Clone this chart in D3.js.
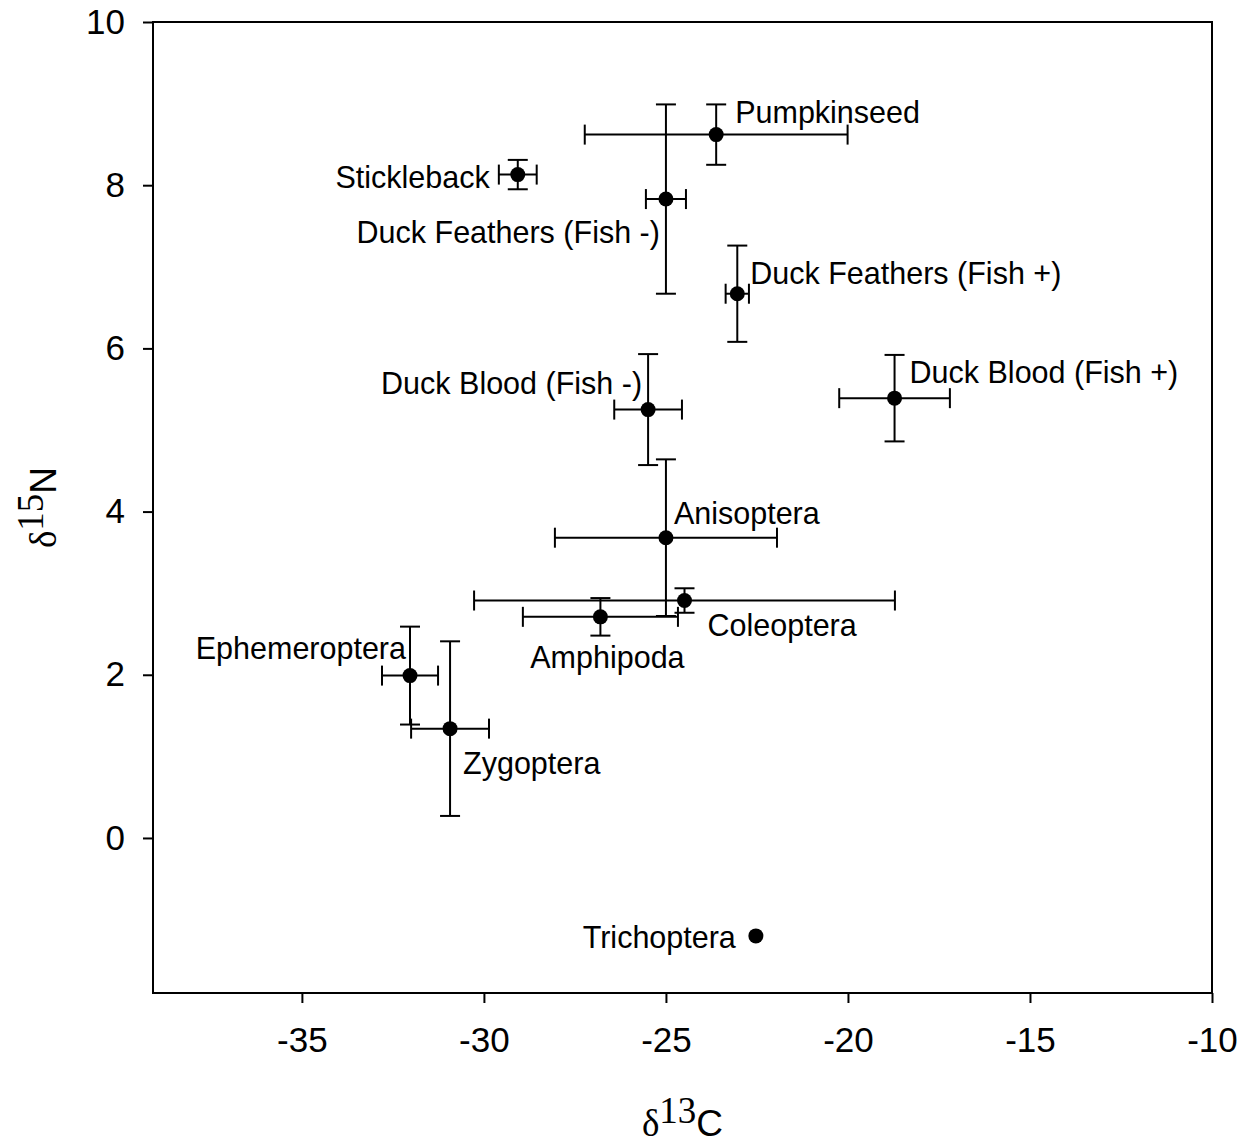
<!DOCTYPE html>
<html>
<head>
<meta charset="utf-8">
<script src="https://cdn.jsdelivr.net/npm/d3@7"></script>
<style>
  body { margin: 0; background: #fff; }
  svg { display: block; }
  .tick text { font-family: "Liberation Sans", Arial, sans-serif; }
</style>
</head>
<body>
<svg id="chart" width="1250" height="1143"></svg>
<script>
// taxa and mean stable isotope values (+/- error)
let taxa = ['Pumpkinseed', 'Stickleback', 'Duck Feathers (Fish -)', 'Duck Feathers (Fish +)',
    'Duck Blood (Fish -)', 'Duck Blood (Fish +)', 'Anisoptera', 'Coleoptera',
    'Amphipoda', 'Ephemeroptera', 'Zygoptera', 'Trichoptera'];
let d13C = [-23.62, -29.07, -25.0, -23.04, -25.49, -18.72, -25.0, -24.49, -26.8, -32.03, -30.93, -22.53];
let d15N = [8.62, 8.13, 7.83, 6.67, 5.25, 5.39, 3.68, 2.91, 2.71, 1.99, 1.34, -1.2];
let errC = [3.61, 0.52, 0.55, 0.32, 0.93, 1.52, 3.05, 5.78, 2.13, 0.77, 1.07, 0];
let errN = [0.37, 0.18, 1.16, 0.59, 0.68, 0.53, 0.96, 0.15, 0.23, 0.6, 1.07, 0];

let xTicks = [-35, -30, -25, -20, -15, -10];
let yTicks = [0, 2, 4, 6, 8, 10];

// where each label sits relative to its point (layout only)
let labelPlace = [
    ['start', 19, -22], ['end', -28, 3], ['end', -6, 33], ['start', 13, -20],
    ['end', -6, -26], ['start', 15, -26], ['start', 8, -24], ['start', 23, 25],
    ['middle', 7, 40], ['end', -4, -27], ['start', 13, 35], ['end', -20, 1]
];

let points = taxa.map(function(t, i) {
    return { name: t, c: d13C[i], n: d15N[i], ec: errC[i], en: errN[i], lab: labelPlace[i] };
});

let margin = { left: 153, right: 38, top: 22, bottom: 150 };
let width = 1250, height = 1143;

let svg = d3.select('#chart');

let x = d3.scaleLinear().domain([-39.09, -10]).range([margin.left, width - margin.right]);
let y = d3.scaleLinear().domain([-1.9, 10]).range([height - margin.bottom, margin.top]);

// frame
svg.append('rect')
    .attr('x', x.range()[0])
    .attr('y', y.range()[1])
    .attr('width', x.range()[1] - x.range()[0])
    .attr('height', y.range()[0] - y.range()[1])
    .attr('fill', 'none')
    .attr('stroke', '#000')
    .attr('stroke-width', 2);

let plain = function(d) { return String(d); };

let xAxis = svg.append('g')
    .attr('transform', 'translate(0,' + y.range()[0] + ')')
    .call(d3.axisBottom(x).tickValues(xTicks).tickFormat(plain)
        .tickSize(10).tickSizeOuter(0).tickPadding(24));

let yAxis = svg.append('g')
    .attr('transform', 'translate(' + x.range()[0] + ',0)')
    .call(d3.axisLeft(y).tickValues(yTicks).tickFormat(plain)
        .tickSize(10).tickSizeOuter(0).tickPadding(18));

[xAxis, yAxis].forEach(function(a) {
    a.select('.domain').remove();
    a.selectAll('.tick line').attr('stroke', '#000').attr('stroke-width', 2);
    a.selectAll('.tick text').attr('fill', '#000').attr('font-size', 35);
});

// error bars
let cap = 10;
let bars = svg.append('g').attr('stroke', '#000').attr('stroke-width', 2);

points.filter(function(d) { return d.ec > 0; }).forEach(function(d) {
    let g = bars.append('g');
    g.append('line')
        .attr('x1', x(d.c - d.ec)).attr('x2', x(d.c + d.ec))
        .attr('y1', y(d.n)).attr('y2', y(d.n));
    [d.c - d.ec, d.c + d.ec].forEach(function(v) {
        g.append('line')
            .attr('x1', x(v)).attr('x2', x(v))
            .attr('y1', y(d.n) - cap).attr('y2', y(d.n) + cap);
    });
});

points.filter(function(d) { return d.en > 0; }).forEach(function(d) {
    let g = bars.append('g');
    g.append('line')
        .attr('x1', x(d.c)).attr('x2', x(d.c))
        .attr('y1', y(d.n - d.en)).attr('y2', y(d.n + d.en));
    [d.n - d.en, d.n + d.en].forEach(function(v) {
        g.append('line')
            .attr('x1', x(d.c) - cap).attr('x2', x(d.c) + cap)
            .attr('y1', y(v)).attr('y2', y(v));
    });
});

svg.append('g')
    .selectAll('circle')
    .data(points)
    .join('circle')
    .attr('cx', function(d) { return x(d.c); })
    .attr('cy', function(d) { return y(d.n); })
    .attr('r', 7.5)
    .attr('fill', '#000');

svg.append('g')
    .selectAll('text')
    .data(points)
    .join('text')
    .attr('x', function(d) { return x(d.c) + d.lab[1]; })
    .attr('y', function(d) { return y(d.n) + d.lab[2]; })
    .attr('dy', '0.35em')
    .attr('text-anchor', function(d) { return d.lab[0]; })
    .attr('font-family', '"Liberation Sans", Arial, sans-serif')
    .attr('font-size', 30.5)
    .text(function(d) { return d.name; });

// axis titles: delta symbol and isotope mass in serif
let xTitle = svg.append('text')
    .attr('x', (x.range()[0] + x.range()[1]) / 2)
    .attr('y', 1136)
    .attr('text-anchor', 'middle')
    .attr('font-size', 37);
xTitle.append('tspan').attr('font-family', '"Liberation Serif", "Times New Roman", serif').text('δ');
xTitle.append('tspan').attr('font-family', '"Liberation Serif", "Times New Roman", serif').attr('dy', -13).text('13');
xTitle.append('tspan').attr('font-family', '"Liberation Sans", Arial, sans-serif').attr('dy', 13).text('C');

let yTitle = svg.append('text')
    .attr('transform', 'translate(56,' + (y.range()[0] + y.range()[1]) / 2 + ') rotate(-90)')
    .attr('text-anchor', 'middle')
    .attr('font-size', 37);
yTitle.append('tspan').attr('font-family', '"Liberation Serif", "Times New Roman", serif').text('δ');
yTitle.append('tspan').attr('font-family', '"Liberation Serif", "Times New Roman", serif').attr('dy', -13).text('15');
yTitle.append('tspan').attr('font-family', '"Liberation Sans", Arial, sans-serif').attr('dy', 13).text('N');
</script>
</body>
</html>
